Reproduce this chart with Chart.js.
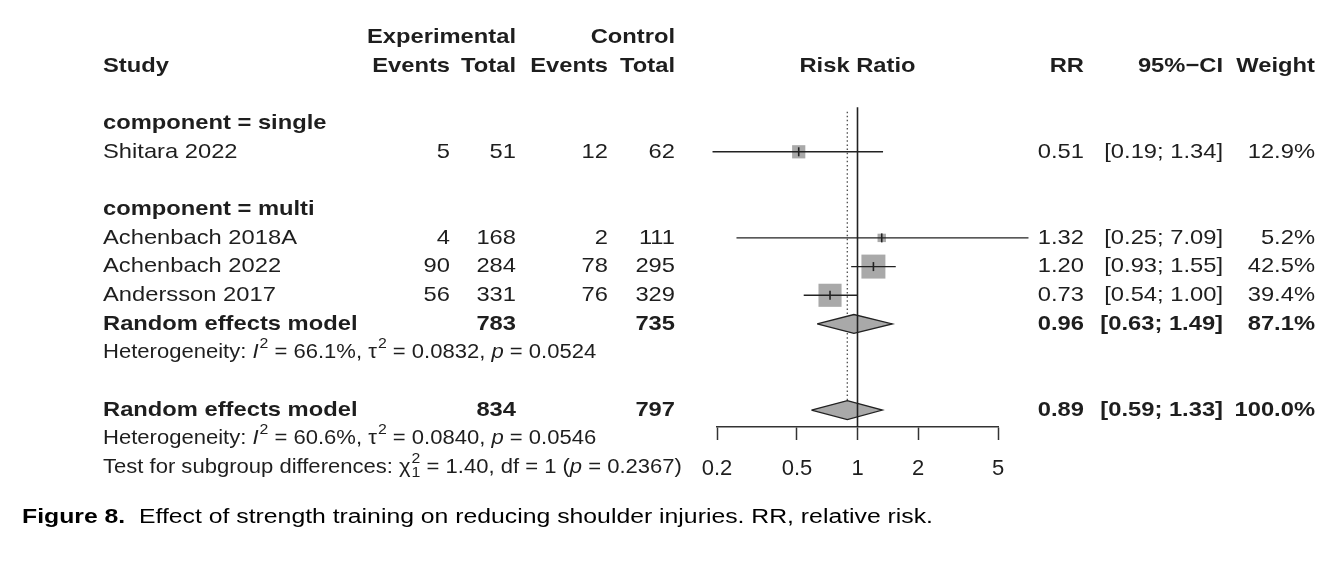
<!DOCTYPE html>
<html>
<head>
<meta charset="utf-8">
<script src="https://cdn.jsdelivr.net/npm/chart.js@4.4.1/dist/chart.umd.min.js"></script>
<style>
  html, body { margin: 0; padding: 0; background: #fff; }
</style>
</head>
<body>
<canvas id="forest" width="1340" height="574"></canvas>
<script>
// ---- data ----
const studies    = ['Shitara 2022', 'Achenbach 2018A', 'Achenbach 2022', 'Andersson 2017'];
const studyGroup = ['single', 'multi', 'multi', 'multi'];
const expEvents  = [5, 4, 90, 56];
const expTotal   = [51, 168, 284, 331];
const ctrlEvents = [12, 2, 78, 76];
const ctrlTotal  = [62, 111, 295, 329];
const rr         = [0.51, 1.32, 1.20, 0.73];
const ciLow      = [0.19, 0.25, 0.93, 0.54];
const ciHigh     = [1.34, 7.09, 1.55, 1.00];
const weight     = [12.9, 5.2, 42.5, 39.4];

// subgroups (pooled only where there is more than one study)
const groups         = ['single', 'multi'];
const groupExpTotal  = [null, 783];
const groupCtrlTotal = [null, 735];
const groupRR        = [null, 0.96];
const groupLow       = [null, 0.63];
const groupHigh      = [null, 1.49];
const groupWeight    = [null, 87.1];
const groupI2        = [null, '66.1'];
const groupTau2      = [null, '0.0832'];
const groupP         = [null, '0.0524'];

// overall
const overallExpTotal  = 834;
const overallCtrlTotal = 797;
const overallRR   = 0.89;
const overallLow  = 0.59;
const overallHigh = 1.33;
const overallI2   = '60.6';
const overallTau2 = '0.0840';
const overallP    = '0.0546';
const subgroupChi2 = '1.40';
const subgroupDf   = 1;
const subgroupP    = '0.2367';

const xTicks = [0.2, 0.5, 1, 2, 5];

// ---- look ----
const FONT = '"Liberation Sans", Arial, Helvetica, sans-serif';
const FS = 21, FS_SMALL = 19.5, SX = 1.13;
const TXT = '#1e1e1e', LINE = '#222', GRAY = '#a9a9a9';

// build the row layout from the grouping (row = last used line)
const studyRow = [], groupRow = [], groupLabelRow = [], hetRow = [];
let row = 1;
groups.forEach((g, gi) => {
  row += 2;                       // blank line, then label
  groupLabelRow[gi] = row;
  studies.forEach((s, i) => { if (studyGroup[i] === g) studyRow[i] = ++row; });
  if (groupRR[gi] != null) { groupRow[gi] = ++row; hetRow[gi] = ++row; }
});
row += 2;
const overallRow = row;
const overallHetRow = ++row;
const testRow = ++row;

// plot covers lines -1.29 .. 13.59 (axis sits at the bottom)
const Y_MIN = -1.29, Y_MAX = 13.59;

const datasets = [];
studies.forEach((s, i) => {
  datasets.push({
    type: 'line', data: [{x: ciLow[i], y: studyRow[i]}, {x: ciHigh[i], y: studyRow[i]}],
    borderColor: LINE, borderWidth: 1.4, pointRadius: 0, clip: false, order: 3
  });
});
datasets.push({
  data: studies.map((s, i) => ({x: rr[i], y: studyRow[i]})),
  pointStyle: 'rect', pointRadius: weight.map(w => 3.68 * Math.sqrt(w) / Math.SQRT2),
  backgroundColor: GRAY, borderColor: GRAY, borderWidth: 0, order: 5
});
datasets.push({
  data: studies.map((s, i) => ({x: rr[i], y: studyRow[i]})),
  pointStyle: 'line', pointRotation: 90, pointRadius: 4.5,
  borderColor: LINE, borderWidth: 1.6, order: 2
});

function diamond(est, lo, hi, r) {
  const h = 0.33;
  return {
    type: 'line',
    data: [{x: lo, y: r}, {x: est, y: r - h}, {x: hi, y: r}, {x: est, y: r + h}, {x: lo, y: r}],
    fill: 'shape', backgroundColor: GRAY, borderColor: LINE, borderWidth: 1.3,
    pointRadius: 0, tension: 0, order: 4
  };
}
groups.forEach((g, gi) => {
  if (groupRR[gi] != null) datasets.push(diamond(groupRR[gi], groupLow[gi], groupHigh[gi], groupRow[gi]));
});
datasets.push(diamond(overallRR, overallLow, overallHigh, overallRow));

// reference lines: no effect (solid) and overall estimate (dotted)
datasets.push({
  type: 'line', data: [{x: 1, y: 2.45}, {x: 1, y: Y_MAX}],
  borderColor: LINE, borderWidth: 1.6, pointRadius: 0, order: 1
});
datasets.push({
  type: 'line', data: [{x: overallRR, y: 2.6}, {x: overallRR, y: overallRow}],
  borderColor: '#555', borderWidth: 1.4, borderDash: [1.5, 2.6], pointRadius: 0, order: 6
});

// ---- text drawing ----
function txt(ctx, t, x, y, o = {}) {
  const size = o.size || FS;
  ctx.save();
  ctx.font = (o.italic ? 'italic ' : '') + (o.bold ? 'bold ' : '') + size + 'px ' + FONT;
  ctx.fillStyle = o.color || TXT;
  ctx.textAlign = o.align || 'left';
  ctx.textBaseline = 'middle';
  ctx.translate(x, y);
  ctx.scale(o.sx || SX, 1);
  ctx.fillText(t, 0, 0);
  const w = ctx.measureText(t).width * (o.sx || SX);
  ctx.restore();
  return w;
}

// segments: plain strings, {i: 'p'} italic, {sup: '2', sub: '1'}
function rich(ctx, segs, x, y, size) {
  segs.forEach(s => {
    if (typeof s === 'string') x += txt(ctx, s, x, y, {size});
    else if (s.i) x += txt(ctx, s.i, x, y, {size, italic: true});
    else {
      let w = 0;
      if (s.sup) w = Math.max(w, txt(ctx, s.sup, x + 1, y - size * 0.42, {size: size * 0.72}));
      if (s.sub) w = Math.max(w, txt(ctx, s.sub, x + 1, y + size * 0.3, {size: size * 0.72}));
      x += w + 1;
    }
  });
}

function hetSegs(i2, tau2, p) {
  return ['Heterogeneity: ', {i: 'I'}, {sup: '2'}, ' = ' + i2 + '%, \u03c4', {sup: '2'},
          ' = ' + tau2 + ', ', {i: 'p'}, ' = ' + p];
}

const COL = {study: 103, expEv: 450, expTot: 516, ctrlEv: 608, ctrlTot: 675, rr: 1084, ci: 1223, w: 1315};
const fmtCI = (l, h) => '[' + l.toFixed(2) + '; ' + h.toFixed(2) + ']';

const forestText = {
  id: 'forestText',
  afterDraw(chart) {
    const ctx = chart.ctx;
    const Y = r => chart.scales.y.getPixelForValue(r);
    const R = {align: 'right'}, RB = {align: 'right', bold: true};

    // header
    txt(ctx, 'Experimental', COL.expTot, Y(0), RB);
    txt(ctx, 'Control', COL.ctrlTot, Y(0), RB);
    txt(ctx, 'Study', COL.study, Y(1), {bold: true});
    txt(ctx, 'Events', COL.expEv, Y(1), RB);
    txt(ctx, 'Total', COL.expTot, Y(1), RB);
    txt(ctx, 'Events', COL.ctrlEv, Y(1), RB);
    txt(ctx, 'Total', COL.ctrlTot, Y(1), RB);
    txt(ctx, 'Risk Ratio', chart.scales.x.getPixelForValue(1), Y(1), {bold: true, align: 'center'});
    txt(ctx, 'RR', COL.rr, Y(1), RB);
    txt(ctx, '95%\u2212CI', COL.ci, Y(1), RB);
    txt(ctx, 'Weight', COL.w, Y(1), RB);

    groups.forEach((g, gi) => {
      txt(ctx, 'component = ' + g, COL.study, Y(groupLabelRow[gi]), {bold: true});
      if (groupRR[gi] != null) {
        const y = Y(groupRow[gi]);
        txt(ctx, 'Random effects model', COL.study, y, {bold: true});
        txt(ctx, String(groupExpTotal[gi]), COL.expTot, y, RB);
        txt(ctx, String(groupCtrlTotal[gi]), COL.ctrlTot, y, RB);
        txt(ctx, groupRR[gi].toFixed(2), COL.rr, y, RB);
        txt(ctx, fmtCI(groupLow[gi], groupHigh[gi]), COL.ci, y, RB);
        txt(ctx, groupWeight[gi].toFixed(1) + '%', COL.w, y, RB);
        rich(ctx, hetSegs(groupI2[gi], groupTau2[gi], groupP[gi]), COL.study, Y(hetRow[gi]), FS_SMALL);
      }
    });

    studies.forEach((s, i) => {
      const y = Y(studyRow[i]);
      txt(ctx, s, COL.study, y);
      txt(ctx, String(expEvents[i]), COL.expEv, y, R);
      txt(ctx, String(expTotal[i]), COL.expTot, y, R);
      txt(ctx, String(ctrlEvents[i]), COL.ctrlEv, y, R);
      txt(ctx, String(ctrlTotal[i]), COL.ctrlTot, y, R);
      txt(ctx, rr[i].toFixed(2), COL.rr, y, R);
      txt(ctx, fmtCI(ciLow[i], ciHigh[i]), COL.ci, y, R);
      txt(ctx, weight[i].toFixed(1) + '%', COL.w, y, R);
    });

    const yo = Y(overallRow);
    txt(ctx, 'Random effects model', COL.study, yo, {bold: true});
    txt(ctx, String(overallExpTotal), COL.expTot, yo, RB);
    txt(ctx, String(overallCtrlTotal), COL.ctrlTot, yo, RB);
    txt(ctx, overallRR.toFixed(2), COL.rr, yo, RB);
    txt(ctx, fmtCI(overallLow, overallHigh), COL.ci, yo, RB);
    txt(ctx, '100.0%', COL.w, yo, RB);
    rich(ctx, hetSegs(overallI2, overallTau2, overallP), COL.study, Y(overallHetRow), FS_SMALL);
    rich(ctx, ['Test for subgroup differences: \u03c7', {sup: '2', sub: String(subgroupDf)},
               ' = ' + subgroupChi2 + ', df = ' + subgroupDf + ' (', {i: 'p'}, ' = ' + subgroupP + ')'],
         COL.study, Y(testRow), FS_SMALL);

    // caption
    const capA = 'Figure 8.', capB = '  Effect of strength training on reducing shoulder injuries. RR, relative risk.';
    ctx.save();
    ctx.font = 'bold 20px ' + FONT;
    const wa = ctx.measureText(capA).width;
    ctx.font = '20px ' + FONT;
    const wb = ctx.measureText(capB).width;
    ctx.restore();
    const csx = 911 / (wa + wb);
    txt(ctx, capA, 22, 517, {bold: true, size: 20, sx: csx, color: '#000'});
    txt(ctx, capB, 22 + wa * csx, 517, {size: 20, sx: csx, color: '#000'});
  }
};

new Chart(document.getElementById('forest'), {
  type: 'scatter',
  data: {datasets},
  options: {
    responsive: false,
    animation: false,
    events: [],
    layout: {autoPadding: false, padding: {left: 717, right: 342, top: 0, bottom: 0}},
    plugins: {legend: {display: false}, tooltip: {enabled: false}},
    scales: {
      x: {
        type: 'logarithmic', min: 0.2, max: 5,
        afterBuildTicks: s => { s.ticks = xTicks.map(v => ({value: v})); },
        afterFit: s => { s.height = 147; },
        ticks: {
          callback: v => String(v), autoSkip: false, maxRotation: 0,
          font: {family: FONT, size: 22}, color: TXT, padding: 16
        },
        grid: {drawOnChartArea: false, drawTicks: true, tickLength: 13, tickColor: '#333', tickWidth: 1.5},
        border: {display: true, color: '#333', width: 1.5}
      },
      y: {type: 'linear', display: false, reverse: true, min: Y_MIN, max: Y_MAX}
    }
  },
  plugins: [forestText]
});
</script>
</body>
</html>
